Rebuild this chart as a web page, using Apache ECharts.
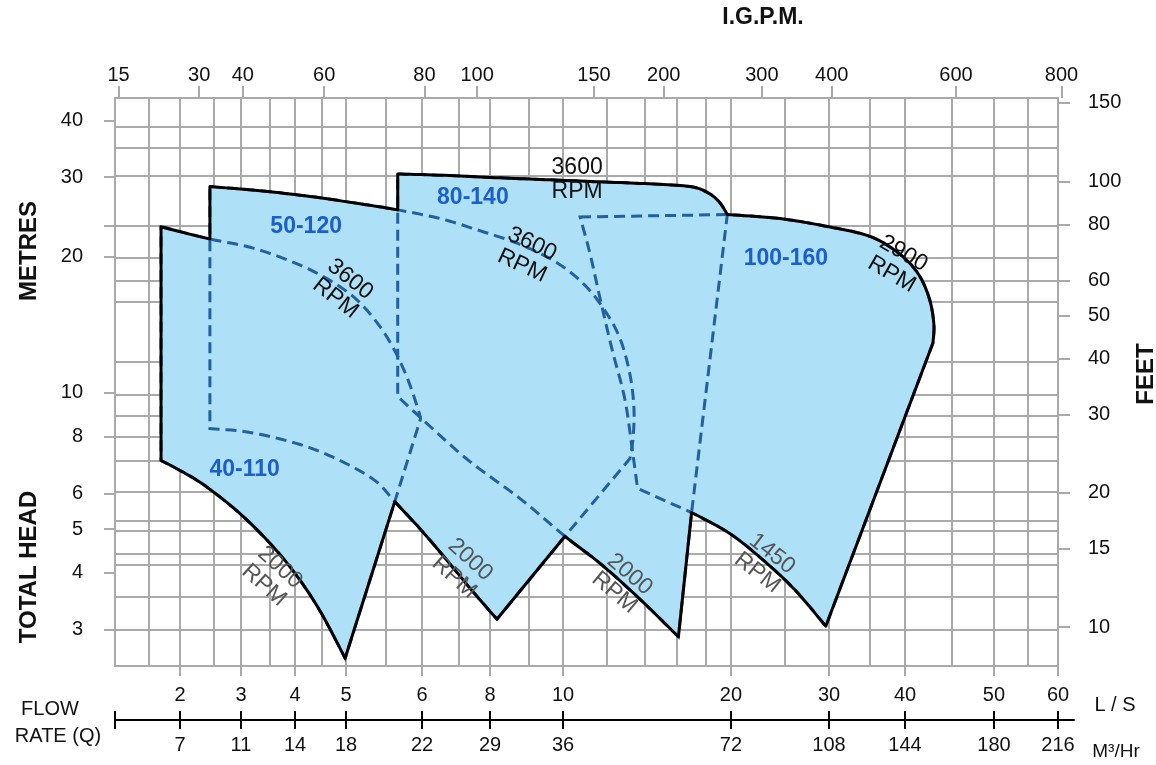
<!DOCTYPE html>
<html>
<head>
<meta charset="utf-8">
<script src="https://cdn.jsdelivr.net/npm/echarts@6.0.0/dist/echarts.min.js"></script>
<style>
html,body{margin:0;padding:0;background:#fff;}
#c{width:1156px;height:765px;}
</style>
</head>
<body>
<div id="c"></div>
<script>
// ---------------- printed scales (tick labels) ----------------
const lsTicks    = [2, 3, 4, 5, 6, 8, 10, 20, 30, 40, 50, 60];
const m3hTicks   = ['7', '11', '14', '18', '22', '29', '36', '72', '108', '144', '180', '216'];
const igpmTicks  = [15, 30, 40, 60, 80, 100, 150, 200, 300, 400, 600, 800];
const metreTicks = [3, 4, 5, 6, 8, 10, 20, 30, 40];
const feetTicks  = [10, 15, 20, 30, 40, 50, 60, 80, 100, 150];
// grid lines of the printed chart paper
const lsGrid    = [1.5, 2, 2.5, 3, 3.5, 4, 4.5, 5, 5.5, 6, 7, 8, 9, 10, 12, 14, 16, 18, 20, 25, 30, 35, 40, 45, 50, 55];
const metreGrid = [3, 3.54, 4.16, 4.4, 4.97, 5.22, 6.04, 7.07, 8, 8.9, 9.9, 11.7, 15.9, 17.7, 19.9, 23.4, 30.2, 34.8, 38.8];
const IGPM_PER_LS = 13.2;
// The printed L/S scale is hand drawn and irregular: printed value -> share of axis length (%)
const lsScaleValues = [1.1, 2, 3, 4, 5, 6, 8, 10, 20, 30, 40, 50, 60];
const lsScalePct    = [0, 6.89, 13.36, 19.09, 24.50, 32.56, 39.77, 47.51, 65.32, 75.72, 83.78, 93.21, 100];

// ---------------- pump ranges: [flow L/S, head m] ----------------
// 40-110
const p40_top    = [[1.68,23.3],[2.44,21.9],[3.15,21.0],[3.89,19.6],[4.56,18.0],[5.11,16.2],[5.40,14.2],[5.62,12.4],[5.80,10.7],[5.94,9.24],[5.98,8.78]];
const p40_right  = [[5.98,8.78],[5.62,5.75],[4.98,2.59]];
const p40_bottom = [[4.98,2.59],[4.46,3.30],[4.00,3.99],[3.50,4.65],[2.98,5.41],[2.36,6.24],[2.00,6.74],[1.68,7.09]];
// 50-120
const p50_top    = [[2.44,28.6],[3.32,28.0],[4.27,27.2],[5.17,26.2],[5.66,25.4],[6.48,24.3],[7.66,22.85],[8.77,21.3],[9.82,19.4],[10.95,17.3],[11.89,15.2],[12.65,13.2],[13.18,11.0],[13.40,9.24],[13.35,7.93],[13.18,7.16]];
const p50_right  = [[13.18,7.16],[10.08,4.82],[8.17,3.16]];
const p50_bottom = [[8.17,3.16],[7.35,3.70],[6.62,4.31],[5.97,5.01],[5.62,5.75],[5.36,6.40],[4.87,7.09],[4.09,7.69],[3.15,8.18],[2.44,8.34]];
// 80-140
const p80_top    = [[5.66,30.5],[6.76,30.25],[8.25,29.9],[9.61,29.6],[11.65,29.3],[14.3,29.0],[16.9,28.6],[18.2,27.7],[19.1,26.35],[19.7,24.8]];
const p80_right  = [[19.7,24.8],[17.0,5.44],[16.1,2.89]];
const p80_bottom = [[16.1,2.89],[13.7,3.51],[11.65,4.20],[10.08,4.82],[8.77,5.84],[7.35,7.05],[6.21,8.43],[5.66,9.82]];
// 100-160
const p100_top    = [[10.73,24.5],[19.7,24.8],[24.5,24.3],[30.0,23.3],[35.0,22.2],[39.0,20.4],[41.3,18.4],[42.5,16.2],[43.0,14.2],[42.9,12.9]];
const p100_right  = [[42.9,12.9],[29.6,3.05]];
const p100_bottom = [[29.6,3.05],[26.1,3.66],[23.0,4.24],[19.9,4.89],[17.0,5.44],[13.6,6.15]];
const p100_left   = [[13.6,6.15],[13.3,7.54],[12.9,9.72],[12.24,12.5],[11.65,16.2],[11.18,20.3],[10.73,24.5]];

// ---------------- curve pieces (array, index range, smooth?) ----------------
function piece(a, lo, hi, s) { return { a: a, lo: lo, hi: hi, s: s }; }
const C40t = piece(p40_top, 0, 10, true), C40r = piece(p40_right, 0, 2, false), C40b = piece(p40_bottom, 0, 7, true);
const C50t = piece(p50_top, 0, 15, true), C50r = piece(p50_right, 0, 2, false), C50b = piece(p50_bottom, 0, 9, true);
const C80t = piece(p80_top, 0, 9, true), C80r = piece(p80_right, 0, 2, false), C80b = piece(p80_bottom, 0, 7, true);
const C100ta = piece(p100_top, 0, 1, false), C100tb = piece(p100_top, 1, 9, true), C100r = piece(p100_right, 0, 1, false);
const C100ba = piece(p100_bottom, 0, 4, true), C100bb = piece(p100_bottom, 4, 5, false), C100l = piece(p100_left, 0, 6, true);

const regions = [
  [C40t, C40r, C40b],
  [C50t, C50r, C50b],
  [C80t, C80r, C80b],
  [C100ta, C100tb, C100r, C100ba, C100bb, C100l]
];
// outer envelope (solid black outline): [piece, from, to]
const envelope = [
  [C40t, 0, 1], [C50t, 0, 4], [C80t, 0, 9], [C100tb, 1, 9], [C100r, 0, 1], [C100ba, 0, 4],
  [C80r, 1, 2], [C80b, 0, 3], [C50r, 1, 2], [C50b, 0, 4], [C40r, 1, 2], [C40b, 0, 7]
];

// ---------------- helpers ----------------
function T(q) {
  const v = lsScaleValues, p = lsScalePct;
  let i = 0;
  while (i < v.length - 2 && q > v[i + 1]) i++;
  const t = Math.log(q / v[i]) / Math.log(v[i + 1] / v[i]);
  return p[i] + t * (p[i + 1] - p[i]);
}
function labeler(us, labels) {
  return function (val) {
    let best = 0, bd = Infinity;
    us.forEach(function (u, i) { const d = Math.abs(u - val); if (d < bd) { bd = d; best = i; } });
    return labels[best];
  };
}
// pixel path of a piece between two of its points (Catmull-Rom rendering for smooth pieces)
function piecePx(api, pc, from, to) {
  const P = pc.a.map(function (p) { return api.coord([T(p[0]), p[1]]); });
  const out = [P[from]];
  for (let i = from; i < to; i++) {
    if (!pc.s) { out.push(P[i + 1]); continue; }
    const p0 = P[Math.max(i - 1, pc.lo)], p1 = P[i], p2 = P[i + 1], p3 = P[Math.min(i + 2, pc.hi)];
    for (let k = 1; k <= 10; k++) {
      const t = k / 10, t2 = t * t, t3 = t2 * t;
      out.push([0, 1].map(function (d) {
        return 0.5 * (2 * p1[d] + (-p0[d] + p2[d]) * t + (2 * p0[d] - 5 * p1[d] + 4 * p2[d] - p3[d]) * t2 + (-p0[d] + 3 * p1[d] - 3 * p2[d] + p3[d]) * t3);
      }));
    }
  }
  return out;
}
function pathPx(api, list) {
  let out = [];
  list.forEach(function (e) {
    const seg = e.length ? piecePx(api, e[0], e[1], e[2]) : piecePx(api, e, e.lo, e.hi);
    const last = out[out.length - 1];
    const same = last && Math.abs(last[0] - seg[0][0]) < 0.01 && Math.abs(last[1] - seg[0][1]) < 0.01;
    out = out.concat(same ? seg.slice(1) : seg);
  });
  return out;
}

const FONT = '"Liberation Sans", Arial, sans-serif';
const GRID = '#aaaaaa';
const lsU = lsTicks.map(T);
const igU = igpmTicks.map(function (g) { return T(g / IGPM_PER_LS); });
const gridU = lsGrid.map(T);

const PLOT_L = 115, PLOT_T = 98, PLOT_W = 943, PLOT_H = 568;
const EXT_W = 959;                       // flow-rate rule runs a little past the plot
const XMAX1 = 100 * EXT_W / PLOT_W;

const YMIN = 2.49, YMAX = 44.9;          // metres at plot bottom / top
const FMIN = 8.18, FMAX = 153.9;         // feet at plot bottom / top

const labelStyle = { fontSize: 20, color: '#111', fontFamily: FONT };

// text notes placed in data units
const notes = [
  { t: '40-110', q: 3.06, h: 6.77, r: 0, k: 'region' },
  { t: '50-120', q: 4.2, h: 23.3, r: 0, k: 'region' },
  { t: '80-140', q: 7.44, h: 27.0, r: 0, k: 'region' },
  { t: '100-160', q: 25.1, h: 19.8, r: 0, k: 'region' },
  { t: '3600\nRPM', q: 10.6, h: 29.6, r: 0, k: 'rpm' },
  { t: '3600\nRPM', q: 4.93, h: 17.0, r: -38, k: 'rpm' },
  { t: '3600\nRPM', q: 8.96, h: 20.2, r: -25, k: 'rpm' },
  { t: '2900\nRPM', q: 38.9, h: 19.3, r: -30, k: 'rpm' },
  { t: '2000\nRPM', q: 3.54, h: 3.93, r: -42, k: 'gray' },
  { t: '2000\nRPM', q: 7.11, h: 4.09, r: -42, k: 'gray' },
  { t: '2000\nRPM', q: 12.76, h: 3.79, r: -40, k: 'gray' },
  { t: '1450\nRPM', q: 23.0, h: 4.2, r: -38, k: 'gray' }
];

const chart = echarts.init(document.getElementById('c'), null, { renderer: 'canvas' });
chart.setOption({
  animation: false,
  backgroundColor: '#fff',
  grid: [
    { left: PLOT_L, top: PLOT_T, width: PLOT_W, height: PLOT_H, show: true, borderColor: GRID, borderWidth: 2, backgroundColor: '#fff' },
    { left: PLOT_L, top: PLOT_T, width: EXT_W, height: PLOT_H, show: false }
  ],
  xAxis: [
    { gridIndex: 0, type: 'value', min: 0, max: 100, position: 'bottom',
      axisLine: { show: false, onZero: false }, axisTick: { show: false, customValues: gridU },
      axisLabel: { show: false, customValues: gridU },
      splitLine: { show: true, lineStyle: { color: GRID, width: 2 } } },
    { gridIndex: 0, type: 'value', min: 0, max: 100, position: 'bottom',
      axisLine: { show: false, onZero: false },
      axisTick: { show: true, length: 10, customValues: lsU, lineStyle: { color: GRID, width: 2 } },
      axisLabel: Object.assign({ customValues: lsU, margin: 19, formatter: labeler(lsU, lsTicks.map(String)) }, labelStyle),
      splitLine: { show: false } },
    { gridIndex: 1, type: 'value', min: 0, max: XMAX1, position: 'top',
      axisLine: { show: false, onZero: false },
      axisTick: { show: true, length: 12, customValues: igU, lineStyle: { color: GRID, width: 2 } },
      axisLabel: Object.assign({ customValues: igU, margin: 13, formatter: labeler(igU, igpmTicks.map(String)) }, labelStyle),
      splitLine: { show: false } },
    { gridIndex: 1, type: 'value', min: 0, max: XMAX1, position: 'bottom', offset: 54,
      axisLine: { show: true, onZero: false, lineStyle: { color: '#000', width: 2 } },
      axisTick: { show: true, length: 9, customValues: [0].concat(lsU), lineStyle: { color: '#000', width: 2 } },
      axisLabel: Object.assign({ customValues: lsU, margin: 15, formatter: labeler(lsU, m3hTicks) }, labelStyle),
      splitLine: { show: false } },
    { gridIndex: 1, type: 'value', min: 0, max: XMAX1, position: 'bottom', offset: 54,
      axisLine: { show: false, onZero: false },
      axisTick: { show: true, inside: true, length: 9, customValues: [0].concat(lsU), lineStyle: { color: '#000', width: 2 } },
      axisLabel: { show: false }, splitLine: { show: false } }
  ],
  yAxis: [
    { gridIndex: 0, type: 'log', min: YMIN, max: YMAX, position: 'left',
      axisLine: { show: false, onZero: false }, axisTick: { show: false, customValues: metreGrid },
      axisLabel: { show: false, customValues: metreGrid },
      splitLine: { show: true, lineStyle: { color: GRID, width: 2 } } },
    { gridIndex: 0, type: 'log', min: YMIN, max: YMAX, position: 'left',
      axisLine: { show: false, onZero: false },
      axisTick: { show: true, length: 11, customValues: metreTicks.concat([23.4]), lineStyle: { color: GRID, width: 2 } },
      axisLabel: Object.assign({ customValues: metreTicks, margin: 32, formatter: function (v) { return String(+(+v).toPrecision(3)); } }, labelStyle),
      splitLine: { show: false } },
    { gridIndex: 0, type: 'log', min: FMIN, max: FMAX, position: 'right',
      axisLine: { show: false, onZero: false },
      axisTick: { show: true, length: 12, customValues: feetTicks, lineStyle: { color: GRID, width: 2 } },
      axisLabel: Object.assign({ customValues: feetTicks, margin: 30, formatter: function (v) { return String(+(+v).toPrecision(3)); } }, labelStyle),
      splitLine: { show: false } },
    { gridIndex: 1, type: 'value', min: 0, max: 1, show: false }
  ],
  series: [
    { type: 'custom', name: 'fill', xAxisIndex: 0, yAxisIndex: 0, silent: true, z: 2,
      data: regions.map(function (_, i) { return [50, 10, i]; }), encode: { x: 0, y: 1 },
      renderItem: function (params, api) {
        return { type: 'polygon', shape: { points: pathPx(api, regions[params.dataIndex]) },
          style: { fill: '#aee0f8', stroke: null } };
      } },
    { type: 'custom', name: 'ranges', xAxisIndex: 0, yAxisIndex: 0, silent: true, z: 3,
      data: regions.map(function (_, i) { return [50, 10, i]; }), encode: { x: 0, y: 1 },
      renderItem: function (params, api) {
        return { type: 'polygon', shape: { points: pathPx(api, regions[params.dataIndex]) },
          style: { fill: null, stroke: '#22609f', lineWidth: 3, lineDash: [11, 6] } };
      } },
    { type: 'custom', name: 'envelope', xAxisIndex: 0, yAxisIndex: 0, silent: true, z: 4,
      data: [[50, 10, 0]], encode: { x: 0, y: 1 },
      renderItem: function (params, api) {
        return { type: 'polygon', shape: { points: pathPx(api, envelope) },
          style: { fill: null, stroke: '#000', lineWidth: 3, lineJoin: 'round' } };
      } },
    { type: 'custom', name: 'notes', xAxisIndex: 0, yAxisIndex: 0, silent: true, z: 5,
      data: notes.map(function (n, i) { return [T(n.q), n.h, i]; }), encode: { x: 0, y: 1 },
      renderItem: function (params, api) {
        const n = notes[params.dataIndex];
        const c = api.coord([T(n.q), n.h]);
        let style;
        if (n.k === 'region') style = { text: n.t, fill: '#1b5fcf', font: 'bold 23px ' + FONT, align: 'center', verticalAlign: 'middle' };
        else style = { text: n.t, fill: n.k === 'gray' ? '#555' : '#111', font: '23px ' + FONT, lineHeight: 24, align: 'center', verticalAlign: 'middle' };
        return { type: 'text', x: c[0], y: c[1], rotation: n.r * Math.PI / 180, style: style };
      } }
  ],
  graphic: [
    { type: 'text', x: 763, y: 18, style: { text: 'I.G.P.M.', font: 'bold 23px ' + FONT, fill: '#111', align: 'center', verticalAlign: 'middle' } },
    { type: 'text', x: 29, y: 251, rotation: Math.PI / 2, style: { text: 'METRES', font: 'bold 24px ' + FONT, fill: '#111', align: 'center', verticalAlign: 'middle' } },
    { type: 'text', x: 29, y: 567, rotation: Math.PI / 2, style: { text: 'TOTAL HEAD', font: 'bold 24px ' + FONT, fill: '#111', align: 'center', verticalAlign: 'middle' } },
    { type: 'text', x: 1146, y: 374, rotation: Math.PI / 2, style: { text: 'FEET', font: 'bold 24px ' + FONT, fill: '#111', align: 'center', verticalAlign: 'middle' } },
    { type: 'text', x: 50, y: 709, style: { text: 'FLOW', font: '20px ' + FONT, fill: '#111', align: 'center', verticalAlign: 'middle' } },
    { type: 'text', x: 58, y: 736, style: { text: 'RATE (Q)', font: '20px ' + FONT, fill: '#111', align: 'center', verticalAlign: 'middle' } },
    { type: 'text', x: 1115, y: 705, style: { text: 'L / S', font: '20px ' + FONT, fill: '#111', align: 'center', verticalAlign: 'middle' } },
    { type: 'text', x: 1116, y: 752, style: { text: 'M³/Hr', font: '19px ' + FONT, fill: '#111', align: 'center', verticalAlign: 'middle' } }
  ]
});
</script>
</body>
</html>
